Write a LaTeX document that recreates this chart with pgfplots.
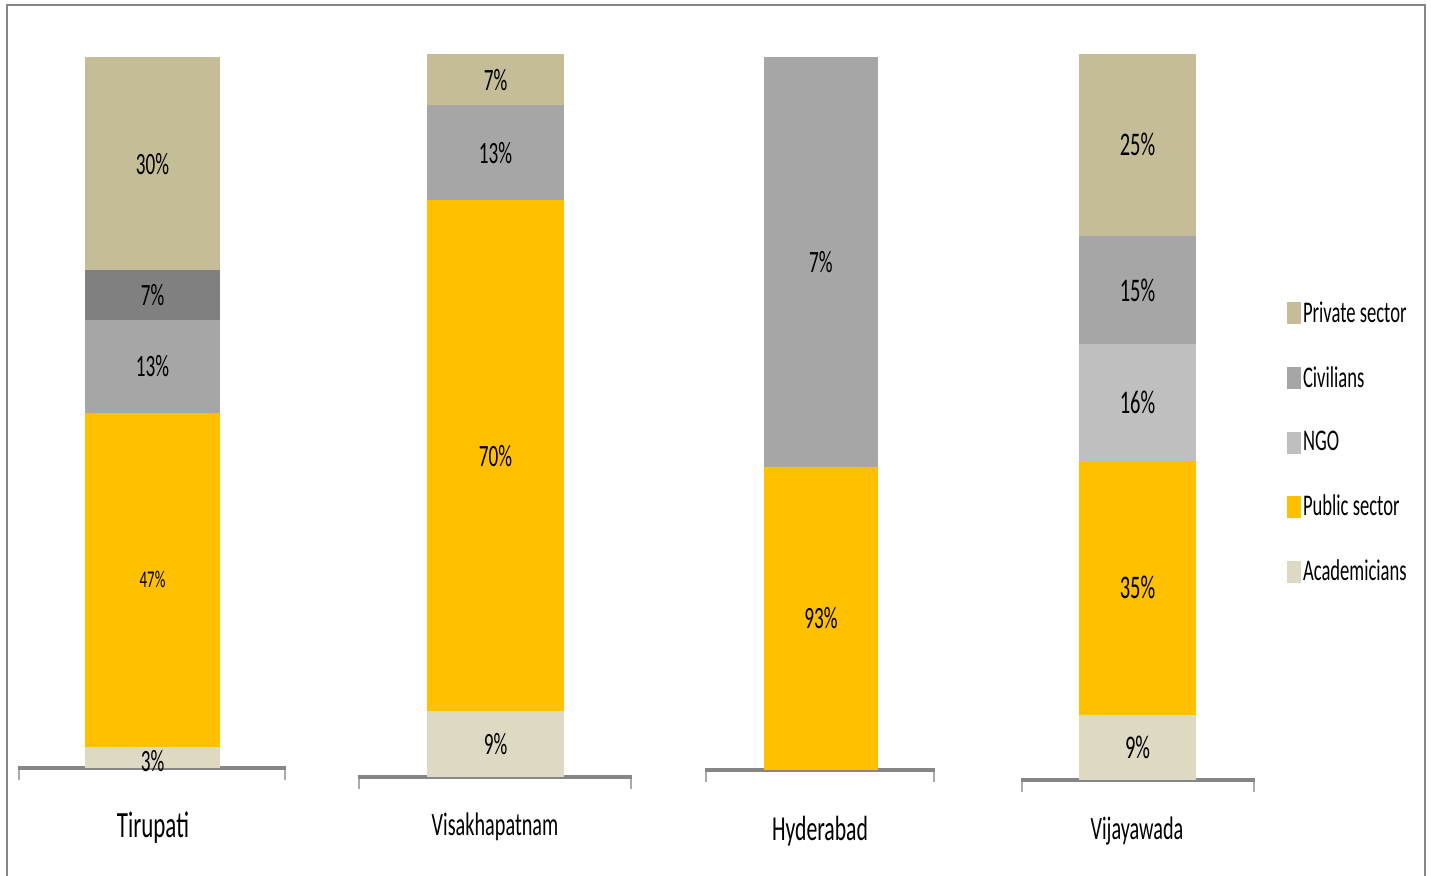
\documentclass[border=0pt]{standalone}
\usepackage{pgfplots}
\pgfplotsset{compat=1.18}
\usepackage{fontspec}
\setmainfont{Carlito}[FakeStretch=0.62]
\definecolor{priv}{HTML}{C4BD97}
\definecolor{civ}{HTML}{808080}
\definecolor{midg}{HTML}{A6A6A6}
\definecolor{ngo}{HTML}{BFBFBF}
\definecolor{pub}{HTML}{FFC000}
\definecolor{acad}{HTML}{DDD9C3}
\definecolor{framec}{HTML}{868686}
\pgfplotsset{
  panel/.style={
    hide axis, scale only axis, ybar stacked, enlargelimits=false,
    xmin=0, xmax=1, ymin=0, anchor=south west, clip=false,
    point meta=explicit symbolic,
    nodes near coords,
    every node near coord/.append style={anchor=center, text=black, inner sep=0pt},
  },
}
\newcommand{\baseln}{%
  \draw[framec, line width=2pt] (rel axis cs:0,0) -- (rel axis cs:1,0);
  \draw[framec!70, line width=1pt] (rel axis cs:0,0) ++(0.5pt,0) -- ++(0,-6pt);
  \draw[framec!70, line width=1pt] (rel axis cs:1,0) ++(-0.5pt,0) -- ++(0,-6pt);
}
\begin{document}
\begin{tikzpicture}
\useasboundingbox (0,0) rectangle (715.5pt,-437.5pt);
\draw[framec, line width=1pt] (3.5pt,-445pt) -- (3.5pt,-2.5pt) -- (712.5pt,-2.5pt) -- (712.5pt,-445pt);

% Tirupati
\begin{axis}[panel, at={(9pt,-384pt)}, width=134pt, height=355.5pt, ymax=100, bar width=67.5pt,
  every node near coord/.append style={font=\fontsize{15.5}{17}\selectfont}]
\addplot[fill=acad, draw=none, every node near coord/.append style={yshift=-2pt}] coordinates {(0.502,3) [3\%]};
\addplot[fill=pub, draw=none, every node near coord/.append style={font=\fontsize{12}{13}\selectfont}] coordinates {(0.502,47) [47\%]};
\addplot[fill=midg, draw=none] coordinates {(0.502,13) [13\%]};
\addplot[fill=civ, draw=none] coordinates {(0.502,7) [7\%]};
\addplot[fill=priv, draw=none] coordinates {(0.502,30) [30\%]};
\baseln
\end{axis}

% Visakhapatnam
\begin{axis}[panel, at={(179pt,-388.5pt)}, width=137pt, height=361.5pt, ymax=99, bar width=68.5pt,
  every node near coord/.append style={font=\fontsize{15.5}{17}\selectfont}]
\addplot[fill=acad, draw=none] coordinates {(0.502,9) [9\%]};
\addplot[fill=pub, draw=none] coordinates {(0.502,70) [70\%]};
\addplot[fill=midg, draw=none] coordinates {(0.502,13) [13\%]};
\addplot[fill=priv, draw=none] coordinates {(0.502,7) [7\%]};
\baseln
\end{axis}

% Hyderabad
\begin{axis}[panel, at={(352.5pt,-385pt)}, width=115pt, height=356.5pt, ymax=100, bar width=57pt,
  every node near coord/.append style={font=\fontsize{15.5}{17}\selectfont}]
\addplot[fill=pub, draw=none] coordinates {(0.504,42.5) [93\%]};
\addplot[fill=midg, draw=none] coordinates {(0.504,57.5) [7\%]};
\baseln
\end{axis}

% Vijayawada
\begin{axis}[panel, at={(510.5pt,-390pt)}, width=117pt, height=363pt, ymax=100, bar width=58.5pt,
  every node near coord/.append style={font=\fontsize{16.5}{18}\selectfont},
  reverse legend,
  legend image code/.code={\fill[#1] (0pt,-5.5pt) rectangle (7pt,5.5pt);},
  legend style={at={(1.137,0.662)}, anchor=north west, draw=none, fill=none,
    font=\fontsize{15}{17}\selectfont, row sep=19pt, inner sep=0pt,
    nodes={inner sep=0.8pt}, cells={anchor=west}}]
\addplot[fill=acad, draw=none] coordinates {(0.498,9) [9\%]};
\addplot[fill=pub, draw=none] coordinates {(0.498,35) [35\%]};
\addplot[fill=ngo, draw=none] coordinates {(0.498,16) [16\%]};
\addplot[fill=midg, draw=none] coordinates {(0.498,15) [15\%]};
\addplot[fill=priv, draw=none] coordinates {(0.498,25) [25\%]};
\legend{Academicians, Public sector, NGO, Civilians, Private sector}
\baseln
\end{axis}

\node[anchor=base, font=\fontsize{18.5}{20}\selectfont] at (76.5pt,-418.5pt) {Tirupati};
\node[anchor=base, font=\fontsize{16.3}{18}\selectfont] at (247.5pt,-417.5pt) {Visakhapatnam};
\node[anchor=base, font=\fontsize{17.5}{19}\selectfont] at (410pt,-420pt) {Hyderabad};
\node[anchor=base, font=\fontsize{16.3}{18}\selectfont] at (568.5pt,-419.5pt) {Vijayawada};
\end{tikzpicture}
\end{document}
